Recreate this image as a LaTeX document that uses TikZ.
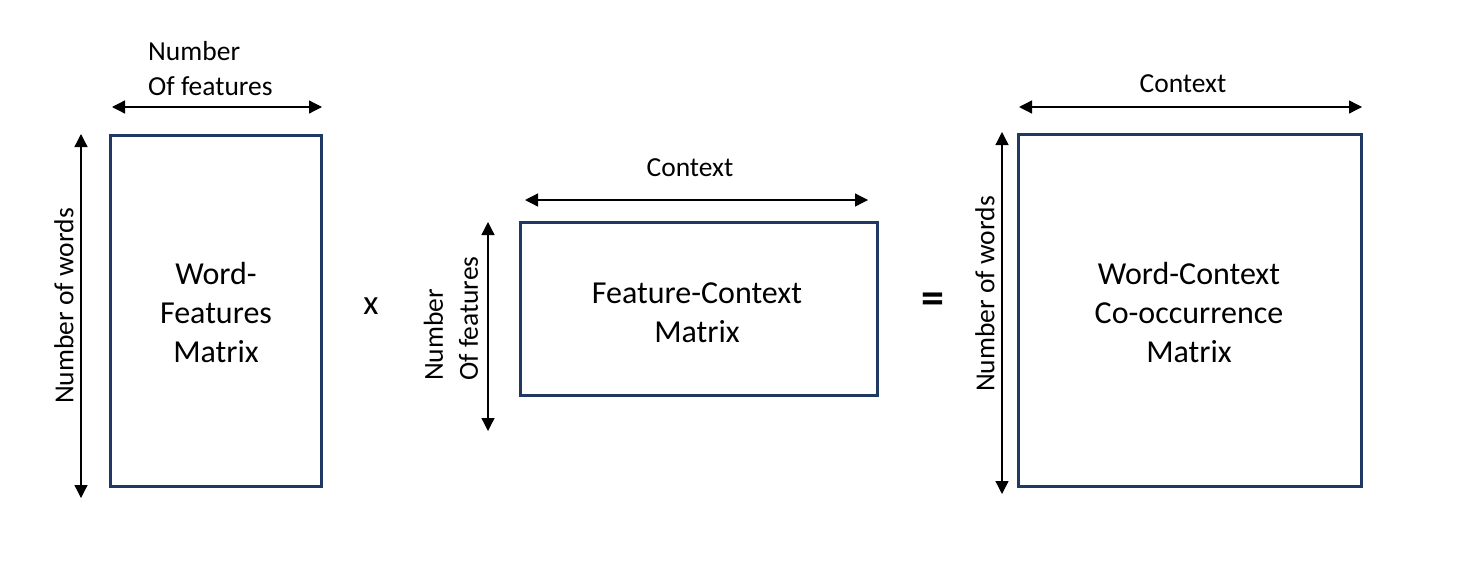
\documentclass[tikz,border=0pt]{standalone}
\usepackage{fontspec}
\setmainfont{Carlito}
\usetikzlibrary{arrows.meta}
\definecolor{boxblue}{HTML}{203864}
\tikzset{
  matbox/.style={draw=boxblue, line width=3pt},
  dimarrow/.style={line width=1.3pt, {Triangle[width=13pt,length=13pt]}-{Triangle[width=13pt,length=13pt]}},
  lbl/.style={inner sep=0pt, font=\fontsize{27.5}{35}\selectfont},
  boxtxt/.style={inner sep=0pt, align=center, font=\fontsize{32}{39}\selectfont},
}
\begin{document}
\begin{tikzpicture}[x=1pt,y=-1pt]
\useasboundingbox (0,0) rectangle (1466,562);
% boxes
\draw[matbox] (110,135) rectangle (321,486);
\draw[matbox] (520,222) rectangle (877,395);
\draw[matbox] (1018,134) rectangle (1361,486);
% box texts
\node[boxtxt] (t1) at (216,313) {Word-\\Features\\Matrix};
\node[boxtxt] (t2) at (697,313) {Feature-Context\\Matrix};
\node[boxtxt] (t3) at (1189,313) {Word-Context\\Co-occurrence\\Matrix};
% box1 dims
\coordinate (a1l) at (112,107);
\coordinate (a1r) at (322,107);
\draw[dimarrow] (a1l) -- (a1r);
\node[lbl, align=left, anchor=west] (l1) at (148,69) {Number\\Of features};
\coordinate (v1t) at (81,134);
\coordinate (v1b) at (81,498);
\draw[dimarrow] (v1t) -- (v1b);
\node[lbl, rotate=90] (w1) at (64,306) {Number of words};
% operator x
\node[inner sep=0pt, font=\fontsize{35}{39}\selectfont] (times) at (371,306) {x};
% box2 dims
\coordinate (a2l) at (525,200);
\coordinate (a2r) at (868,200);
\draw[dimarrow] (a2l) -- (a2r);
\node[lbl, anchor=base] (c2) at (690,176) {Context};
\coordinate (v2t) at (488,222);
\coordinate (v2b) at (488,431);
\draw[dimarrow] (v2t) -- (v2b);
\node[lbl, align=left, rotate=90, anchor=west] (f2) at (451,381) {Number\\Of features};
% operator =
\node[inner sep=0pt, font=\fontsize{46}{46}\selectfont\bfseries] (eq) at (933,303) {=};
% box3 dims
\coordinate (a3l) at (1019,107);
\coordinate (a3r) at (1362,107);
\draw[dimarrow] (a3l) -- (a3r);
\node[lbl, anchor=base] (c3) at (1183,92) {Context};
\coordinate (v3t) at (1002,132);
\coordinate (v3b) at (1002,494);
\draw[dimarrow] (v3t) -- (v3b);
\node[lbl, rotate=90] (w3) at (985,294) {Number of words};
\end{tikzpicture}
\end{document}
